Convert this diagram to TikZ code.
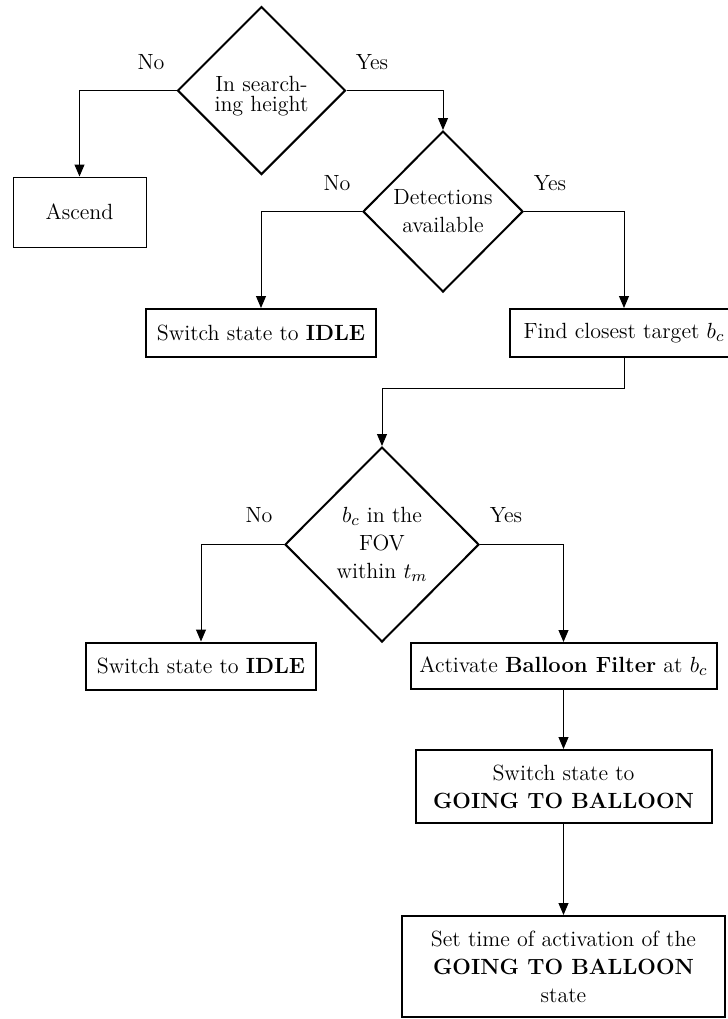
\documentclass[tikz,border=0pt]{standalone}
\usetikzlibrary{shapes.geometric,arrows.meta}
\begin{document}
\begin{tikzpicture}[x=0.5pt,y=-0.5pt,
  every node/.style={font=\fontsize{11pt}{14pt}\selectfont},
  box/.style={draw, line width=1pt, inner sep=0pt, align=center},
  thinbox/.style={draw, line width=0.5pt, inner sep=0pt, align=center},
  dec/.style={draw, diamond, line width=1pt, inner sep=0pt, align=center},
  arr/.style={line width=0.5pt, -{Triangle[length=6pt,width=5pt]}}]
\useasboundingbox (0,0) rectangle (728,1019);

% decisions
\node[dec, minimum width=84pt, minimum height=84pt] (d1) at (261.5,90.5) {};
\node[align=center, inner sep=0pt, font=\fontsize{11pt}{10.2pt}\selectfont] (d1t) at (261.5,96) {In search-\\ing height};
\node[dec, minimum width=80pt, minimum height=80.5pt] (d2) at (443,211.5) {Detections\\available};
\node[dec, minimum width=97pt, minimum height=97.5pt] (d3) at (382,544.5) {$b_c$ in the\\FOV\\within $t_m$};

% boxes
\node[thinbox, minimum width=66.5pt, minimum height=35pt] (asc) at (79.5,212) {Ascend};
\node[box, minimum width=115pt, minimum height=24pt] (idle1) at (261,333) {Switch state to \textbf{IDLE}};
\node[box, minimum width=114pt, minimum height=24pt] (find) at (624,333) {Find closest target $b_c$};
\node[box, minimum width=115pt, minimum height=23.5pt] (idle2) at (201,666) {Switch state to \textbf{IDLE}};
\node[box, minimum width=153pt, minimum height=23pt] (act) at (563.5,666) {Activate \textbf{Balloon Filter} at $b_c$};
\node[box, minimum width=148pt, minimum height=36.5pt] (going) at (563.5,786.5) {Switch state to\\\textbf{GOING TO BALLOON}};
\node[box, minimum width=161.5pt, minimum height=50.5pt] (last) at (563.5,966.5) {Set time of activation of the\\\textbf{GOING TO BALLOON}\\state};

% labels
\node (l1) at (151,62) {No};
\node (l2) at (372,62) {Yes};
\node (l3) at (337,183) {No};
\node (l4) at (550,183) {Yes};
\node (l5) at (259,515) {No};
\node (l6) at (506,515) {Yes};

% connectors
\draw[arr] (d1.west) -| (asc.north);
\draw[arr] (d1.east) -| (d2.north);
\draw[arr] (d2.west) -| (idle1.north);
\draw[arr] (d2.east) -| (find.north);
\draw[arr] (find.south) -- ++(0,30) -| (d3.north);
\draw[arr] (d3.west) -| (idle2.north);
\draw[arr] (d3.east) -| (act.north);
\draw[arr] (act.south) -- (going.north);
\draw[arr] (going.south) -- (last.north);
\end{tikzpicture}
\end{document}
